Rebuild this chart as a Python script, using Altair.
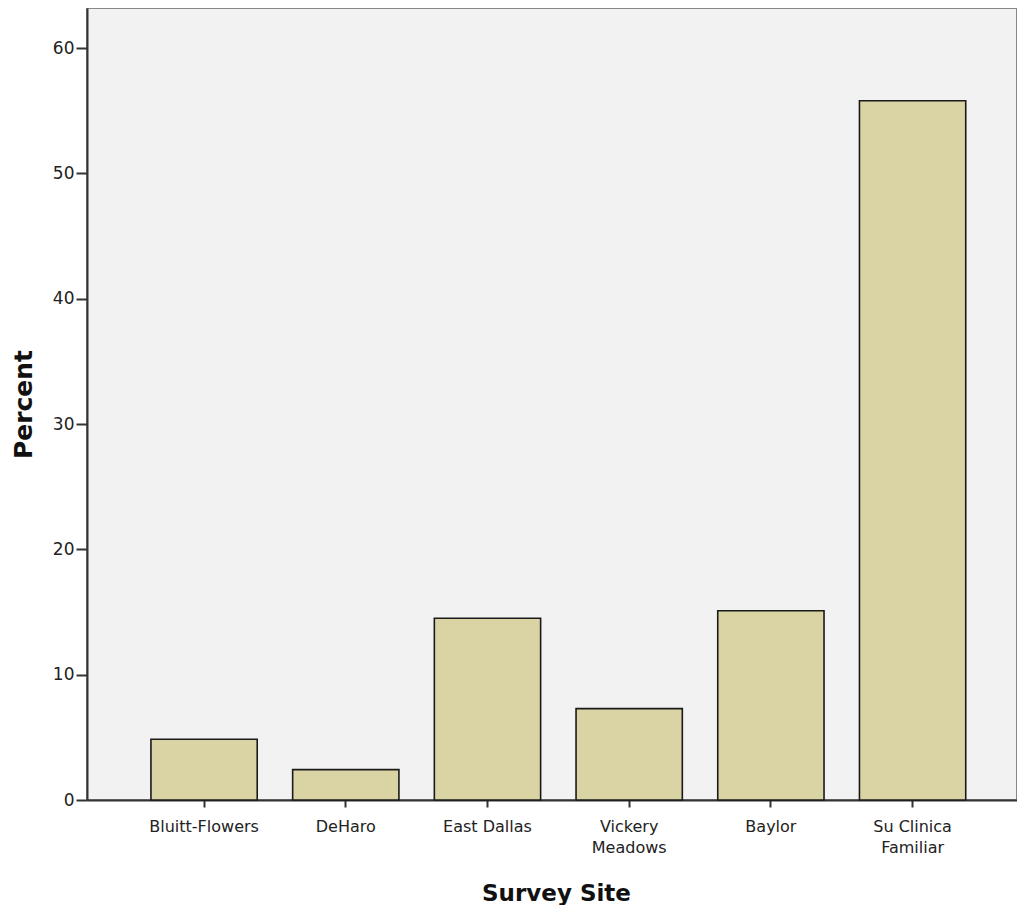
import altair as alt
import pandas as pd

sites = ["Bluitt-Flowers", "DeHaro", "East Dallas", "Vickery\nMeadows", "Baylor", "Su Clinica\nFamiliar"]
percent = [4.85, 2.42, 14.5, 7.29, 15.1, 55.8]
y_ticks = [0, 10, 20, 30, 40, 50, 60]

df = pd.DataFrame({"site": sites, "percent": percent})

FONT = "DejaVu Sans"

chart = alt.Chart(df).mark_bar(
    color="#dad4a4", stroke="#1a1a1a", strokeWidth=1.6
).encode(
    x=alt.X("site:N", sort=sites, title="Survey Site",
            scale=alt.Scale(paddingInner=0.25, paddingOuter=0.4065, align=0.555),
            axis=alt.Axis(labelAngle=0, labelExpr="split(datum.label, '\\n')",
                          labelFont=FONT, labelFontSize=16, labelColor="#222",
                          labelPadding=11, labelLineHeight=21,
                          tickSize=7, tickColor="#333", tickWidth=2,
                          domainColor="#333", domainWidth=2,
                          titleFont=FONT, titleFontSize=23, titleFontWeight="bold",
                          titleColor="#111", titleX=469, titleY=100,
                          titleBaseline="alphabetic", titleAlign="center")),
    y=alt.Y("percent:Q", title="Percent",
            scale=alt.Scale(domain=[0, 63.2], nice=False, zero=True),
            axis=alt.Axis(values=y_ticks, grid=False,
                          labelFont=FONT, labelFontSize=17, labelColor="#222",
                          labelPadding=2,
                          tickSize=11, tickColor="#333", tickWidth=2,
                          domainColor="#333", domainWidth=2,
                          titleFont=FONT, titleFontSize=25, titleFontWeight="bold",
                          titleColor="#111", titleX=-64, titleY=396, titleAngle=-90,
                          titleBaseline="middle", titleAlign="center")),
).properties(
    width=930, height=792,
    autosize=alt.AutoSizeParams(type="none"),
    padding={"left": 79, "top": 0, "right": 0, "bottom": 105},
).configure_view(
    fill="#f2f2f2", stroke="#888888", strokeWidth=2
)

chart.save("out.html", embed_options={"renderer": "svg", "actions": False})
